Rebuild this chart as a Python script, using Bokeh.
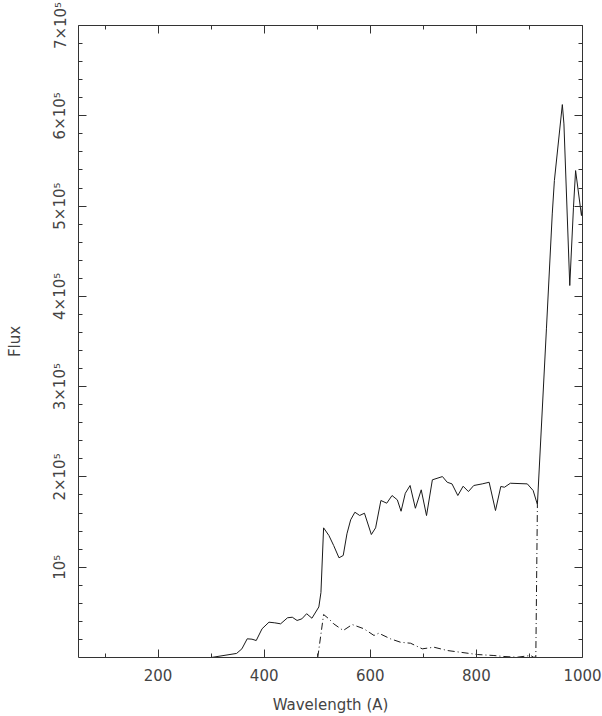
from bokeh.plotting import figure
from bokeh.models import Range1d, FixedTicker, LinearAxis, CustomLabelingPolicy
from bokeh.embed import file_html
from bokeh.resources import INLINE

# Total spectrum (solid line)
total_wavelength = [230, 300, 348, 358, 368, 377, 385, 396, 409, 420, 431, 444, 453, 462,
                    471, 480, 490, 503, 507, 512, 522, 531, 541, 549, 556, 563, 571, 580,
                    589, 602, 610, 620, 631, 641, 651, 658, 666, 675, 685, 696, 706, 717,
                    736, 745, 754, 765, 775, 785, 795, 811, 824, 836, 846, 853, 864, 896,
                    907, 915, 932, 943, 947, 962, 965, 976, 983, 987, 998, 1000]
total_flux = [0, 0, 4500, 9600, 20700, 20300, 18800, 31800, 39100, 38400, 37300, 44000,
              44600, 41000, 42800, 48500, 43500, 56000, 72000, 143600, 135100, 124000,
              110400, 113000, 137000, 152500, 160900, 157300, 159800, 136200, 143600,
              173900, 170900, 179400, 174600, 162000, 181900, 190500, 165300, 185700,
              157200, 196800, 200400, 194100, 192300, 179400, 189700, 183800, 190500,
              192300, 194100, 162800, 189400, 188600, 193000, 192300, 184900, 169400,
              364000, 491300, 528200, 612400, 591000, 412000, 498700, 539300, 489500, 500000]

# Component spectrum (dash-dot line)
comp_wavelength = [501, 512, 522, 531, 549, 566, 588, 607, 616, 638, 657, 676, 698, 720,
                   745, 802, 833, 852, 877, 902, 908, 912, 915]
comp_flux = [0, 47600, 42800, 37300, 29900, 36500, 31800, 24400, 26900, 20700, 16900,
             15800, 9600, 11400, 7750, 3300, 2200, 1100, 330, 2200, 300, 500, 169400]

# Axes
x_major_ticks = [200, 400, 600, 800, 1000]
x_minor_ticks = [100, 300, 500, 700, 900]
y_major_ticks = [100000, 200000, 300000, 400000, 500000, 600000, 700000]
y_tick_labels = ["10⁵", "2×10⁵", "3×10⁵", "4×10⁵", "5×10⁵", "6×10⁵", "7×10⁵"]
y_minor_ticks = [v for v in range(0, 700001, 20000) if v % 100000 != 0]

FONT = "DejaVu Sans"
INK = "#333333"
TXT = "#444444"

p = figure(width=602, height=716, output_backend="svg", toolbar_location=None,
           x_range=Range1d(50, 1000), y_range=Range1d(0, 700000),
           min_border_left=78, min_border_right=20, min_border_top=25,
           min_border_bottom=59, x_axis_label="Wavelength (A)", y_axis_label="Flux")
p.grid.visible = False
p.outline_line_color = None
p.background_fill_color = "white"
p.border_fill_color = "white"

p.line(total_wavelength, total_flux, line_color="#1a1a1a", line_width=1)
p.line(comp_wavelength, comp_flux, line_color="#1a1a1a", line_width=1, line_dash="7 3 1 3")


def style(ax):
    ax.axis_line_color = INK
    ax.major_tick_line_color = INK
    ax.minor_tick_line_color = INK
    ax.major_tick_in = 8
    ax.major_tick_out = 0
    ax.minor_tick_in = 4
    ax.minor_tick_out = 0
    ax.major_label_text_font = FONT
    ax.major_label_text_font_size = "15px"
    ax.major_label_text_color = TXT
    ax.axis_label_text_font = FONT
    ax.axis_label_text_font_size = "15px"
    ax.axis_label_text_font_style = "normal"
    ax.axis_label_text_color = TXT


xa = p.xaxis[0]
xa.ticker = FixedTicker(ticks=x_major_ticks, minor_ticks=x_minor_ticks)
style(xa)
xa.major_label_standoff = 11
xa.axis_label_standoff = 12

ya = p.yaxis[0]
ya.ticker = FixedTicker(ticks=y_major_ticks, minor_ticks=y_minor_ticks)
style(ya)
ya.major_label_orientation = "vertical"
ya.major_label_overrides = {v: s for v, s in zip(y_major_ticks, y_tick_labels)}
ya.major_label_standoff = 9
ya.axis_label_standoff = 25

hide_labels = CustomLabelingPolicy(code="for (const i of indices) indices.unset(i); return indices")
top = LinearAxis(ticker=FixedTicker(ticks=x_major_ticks, minor_ticks=x_minor_ticks))
right = LinearAxis(ticker=FixedTicker(ticks=y_major_ticks, minor_ticks=y_minor_ticks))
for ax in (top, right):
    style(ax)
    ax.major_label_text_font_size = "1px"
    ax.major_label_standoff = 0
    ax.major_label_policy = hide_labels
p.add_layout(top, "above")
p.add_layout(right, "right")

open("out.html", "w").write(file_html(p, INLINE))
